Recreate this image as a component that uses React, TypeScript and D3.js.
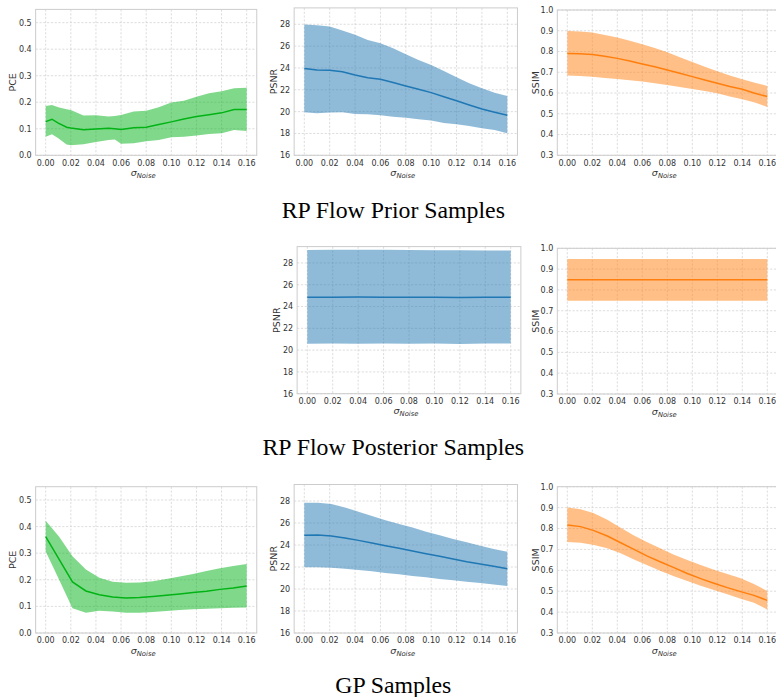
import React from "react";
import * as d3 from "d3";

// ---------- data ----------
const xTicks = [0, 0.02, 0.04, 0.06, 0.08, 0.1, 0.12, 0.14, 0.16];
const pceTicks = [0, 0.1, 0.2, 0.3, 0.4, 0.5];
const psnrTicks = [16, 18, 20, 22, 24, 26, 28];
const ssimTicks = [0.3, 0.4, 0.5, 0.6, 0.7, 0.8, 0.9, 1.0];

const rowTitles = ["RP Flow Prior Samples", "RP Flow Posterior Samples", "GP Samples"];

// Row 1: prior
const priorPceX = [0, 0.005, 0.01, 0.0167, 0.02, 0.03, 0.04, 0.05, 0.055, 0.06, 0.07, 0.08, 0.09, 0.1, 0.11, 0.12, 0.13, 0.14, 0.15, 0.16];
const priorPceMean = [0.127, 0.136, 0.121, 0.106, 0.103, 0.096, 0.099, 0.102, 0.1, 0.097, 0.104, 0.106, 0.116, 0.126, 0.137, 0.146, 0.153, 0.16, 0.173, 0.173];
const priorPceUpper = [0.186, 0.19, 0.181, 0.174, 0.171, 0.15, 0.151, 0.146, 0.148, 0.152, 0.165, 0.168, 0.181, 0.199, 0.206, 0.221, 0.234, 0.241, 0.253, 0.255];
const priorPceLower = [0.07, 0.079, 0.064, 0.041, 0.038, 0.042, 0.05, 0.058, 0.06, 0.044, 0.045, 0.053, 0.058, 0.068, 0.07, 0.075, 0.08, 0.083, 0.095, 0.092];

const priorX = [0, 0.01, 0.02, 0.03, 0.04, 0.05, 0.06, 0.07, 0.08, 0.09, 0.1, 0.11, 0.12, 0.13, 0.14, 0.15, 0.16];
const priorPsnrMean = [23.94, 23.82, 23.79, 23.66, 23.36, 23.11, 22.96, 22.66, 22.35, 22.05, 21.74, 21.37, 21.0, 20.61, 20.24, 19.94, 19.66];
const priorPsnrUpper = [27.97, 27.9, 27.79, 27.42, 27.05, 26.56, 26.26, 25.8, 25.25, 24.73, 24.27, 23.73, 23.15, 22.6, 22.14, 21.74, 21.44];
const priorPsnrLower = [19.94, 19.85, 19.91, 19.94, 19.79, 19.76, 19.66, 19.54, 19.45, 19.3, 19.18, 18.96, 18.84, 18.69, 18.47, 18.32, 18.02];
const priorSsimMean = [0.791, 0.789, 0.786, 0.777, 0.767, 0.754, 0.74, 0.727, 0.711, 0.695, 0.679, 0.663, 0.647, 0.631, 0.618, 0.599, 0.583];
const priorSsimUpper = [0.899, 0.896, 0.892, 0.88, 0.867, 0.852, 0.835, 0.817, 0.796, 0.772, 0.75, 0.727, 0.705, 0.685, 0.666, 0.65, 0.634];
const priorSsimLower = [0.684, 0.682, 0.679, 0.672, 0.668, 0.661, 0.655, 0.647, 0.639, 0.629, 0.619, 0.61, 0.599, 0.583, 0.57, 0.554, 0.533];

// Row 2: posterior
const postX = [0, 0.02, 0.04, 0.06, 0.08, 0.1, 0.12, 0.14, 0.16];
const postPsnrMean = [24.85, 24.86, 24.87, 24.86, 24.85, 24.85, 24.84, 24.85, 24.85];
const postPsnrUpper = [29.19, 29.2, 29.22, 29.2, 29.18, 29.17, 29.16, 29.15, 29.14];
const postPsnrLower = [20.58, 20.6, 20.59, 20.61, 20.58, 20.6, 20.57, 20.6, 20.61];
const postSsimMean = [0.849, 0.849, 0.849, 0.849, 0.849, 0.849, 0.849, 0.849, 0.849];
const postSsimUpper = [0.949, 0.949, 0.949, 0.949, 0.949, 0.949, 0.949, 0.949, 0.949];
const postSsimLower = [0.748, 0.748, 0.748, 0.748, 0.748, 0.748, 0.748, 0.748, 0.748];

// Row 3: GP
const gpX = [0, 0.0107, 0.0213, 0.032, 0.0427, 0.0533, 0.064, 0.0747, 0.0853, 0.096, 0.1067, 0.1173, 0.128, 0.1387, 0.1493, 0.16];
const gpPceMean = [0.362, 0.277, 0.192, 0.158, 0.144, 0.135, 0.132, 0.133, 0.137, 0.142, 0.147, 0.152, 0.157, 0.164, 0.169, 0.177];
const gpPceUpper = [0.422, 0.362, 0.289, 0.239, 0.208, 0.193, 0.189, 0.19, 0.195, 0.203, 0.212, 0.222, 0.233, 0.243, 0.252, 0.259];
const gpPceLower = [0.306, 0.2, 0.093, 0.076, 0.084, 0.081, 0.076, 0.076, 0.079, 0.083, 0.086, 0.089, 0.091, 0.093, 0.095, 0.096];
const gpPsnrMean = [24.88, 24.91, 24.82, 24.64, 24.42, 24.18, 23.94, 23.7, 23.45, 23.21, 22.97, 22.73, 22.48, 22.27, 22.06, 21.85];
const gpPsnrUpper = [27.85, 27.85, 27.73, 27.42, 27.03, 26.64, 26.24, 25.91, 25.58, 25.21, 24.88, 24.55, 24.24, 23.94, 23.64, 23.39];
const gpPsnrLower = [21.97, 21.97, 21.94, 21.85, 21.73, 21.61, 21.45, 21.33, 21.18, 21.06, 20.91, 20.79, 20.67, 20.55, 20.42, 20.27];
const gpSsimMean = [0.817, 0.809, 0.79, 0.764, 0.732, 0.7, 0.668, 0.64, 0.613, 0.585, 0.56, 0.538, 0.517, 0.498, 0.48, 0.456];
const gpSsimUpper = [0.9, 0.892, 0.873, 0.842, 0.804, 0.767, 0.734, 0.704, 0.675, 0.649, 0.625, 0.603, 0.582, 0.562, 0.535, 0.501];
const gpSsimLower = [0.735, 0.732, 0.721, 0.705, 0.681, 0.652, 0.624, 0.597, 0.571, 0.549, 0.526, 0.506, 0.485, 0.464, 0.445, 0.413];

// ---------- styling ----------
const GREEN = "#01b315";
const BLUE = "#1f77b4";
const ORANGE = "#ff7f0e";
const SANS = "DejaVu Sans, sans-serif";
const SERIF = "Liberation Serif, Times New Roman, serif";

type PanelProps = {
  xs: number[];
  mean: number[];
  upper: number[];
  lower: number[];
  color: string;
  label: string;
  yDomain: [number, number];
  yTicks: number[];
  yFmt: (v: number) => string;
  xPix: [number, number];
  yPix: [number, number];
  labelOffset: number;
  id: string;
};

function Panel(p: PanelProps) {
  const x = d3.scaleLinear().domain([0, 0.16]).range(p.xPix);
  const y = d3.scaleLinear().domain(p.yDomain).range(p.yPix);
  const left = x(-0.008);
  const right = x(0.168);
  const top = y(p.yDomain[1]);
  const bottom = y(p.yDomain[0]);
  const idx = p.xs.map((_, i) => i);
  const area = d3
    .area<number>()
    .x((i) => x(p.xs[i]))
    .y0((i) => y(p.lower[i]))
    .y1((i) => y(p.upper[i]));
  const line = d3
    .line<number>()
    .x((i) => x(p.xs[i]))
    .y((i) => y(p.mean[i]));
  const fmtX = d3.format(".2f");
  return (
    <g>
      <defs>
        <clipPath id={p.id}>
          <rect x={left} y={top} width={right - left} height={bottom - top} />
        </clipPath>
      </defs>
      <rect x={left} y={top} width={right - left} height={bottom - top} fill="#ffffff" />
      {xTicks.map((t) => (
        <line key={"gx" + t} x1={x(t)} x2={x(t)} y1={top} y2={bottom} stroke="#d4d4d4" strokeWidth={0.8} strokeDasharray="2.2,1.6" />
      ))}
      {p.yTicks.map((t) => (
        <line key={"gy" + t} x1={left} x2={right} y1={y(t)} y2={y(t)} stroke="#d4d4d4" strokeWidth={0.8} strokeDasharray="2.2,1.6" />
      ))}
      <g clipPath={`url(#${p.id})`}>
        <path d={area(idx) || ""} fill={p.color} fillOpacity={0.5} stroke="none" />
        <path d={line(idx) || ""} fill="none" stroke={p.color} strokeWidth={1.5} />
      </g>
      <rect x={left} y={top} width={right - left} height={bottom - top} fill="none" stroke="#cccccc" strokeWidth={1} />
      {xTicks.map((t) => (
        <text key={"tx" + t} x={x(t)} y={bottom + 10.3} fontSize={8} fill="#333333" fontFamily={SANS} textAnchor="middle">
          {fmtX(t)}
        </text>
      ))}
      {p.yTicks.map((t) => (
        <text key={"ty" + t} x={left - 4} y={y(t) + 2.9} fontSize={8} fill="#333333" fontFamily={SANS} textAnchor="end">
          {p.yFmt(t)}
        </text>
      ))}
      <text
        x={(left + right) / 2 - 3}
        y={bottom + 20.5}
        fontFamily={SANS}
        fill="#333333"
        textAnchor="middle"
      >
        <tspan fontSize={9.5} fontStyle="italic">σ</tspan>
        <tspan fontSize={6.8} fontStyle="italic" dy={2}>Noise</tspan>
      </text>
      <text
        transform={`translate(${left - p.labelOffset},${(top + bottom) / 2}) rotate(-90)`}
        fontSize={9.5}
        fontFamily={SANS}
        fill="#333333"
        textAnchor="middle"
        dy="0.35em"
      >
        {p.label}
      </text>
    </g>
  );
}

const f1 = d3.format(".1f");
const f0 = d3.format("d");

export default function App() {
  return (
    <svg
      width={776}
      height={697}
      style={{ position: "absolute", left: 0, top: 0, background: "#ffffff" }}
    >
      <rect x={0} y={0} width={776} height={697} fill="#ffffff" />
      {/* Row 1 */}
      <Panel id="c1" xs={priorPceX} mean={priorPceMean} upper={priorPceUpper} lower={priorPceLower} color={GREEN} label="PCE"
        yDomain={[0, 0.55]} yTicks={pceTicks} yFmt={f1} xPix={[45.7, 246.7]} yPix={[155.3, 9.4]} labelOffset={23} />
      <Panel id="c2" xs={priorX} mean={priorPsnrMean} upper={priorPsnrUpper} lower={priorPsnrLower} color={BLUE} label="PSNR"
        yDomain={[16, 29.5]} yTicks={psnrTicks} yFmt={f0} xPix={[304.3, 507.3]} yPix={[155.3, 7.9]} labelOffset={20} />
      <Panel id="c3" xs={priorX} mean={priorSsimMean} upper={priorSsimUpper} lower={priorSsimLower} color={ORANGE} label="SSIM"
        yDomain={[0.3, 1.0]} yTicks={ssimTicks} yFmt={f1} xPix={[567.3, 767.3]} yPix={[155.3, 10]} labelOffset={22} />
      <text x={393.3} y={218} fontSize={23.8} fontFamily={SERIF} textAnchor="middle" fill="#000">
        {rowTitles[0]}
      </text>

      {/* Row 2 */}
      <Panel id="c5" xs={postX} mean={postPsnrMean} upper={postPsnrUpper} lower={postPsnrLower} color={BLUE} label="PSNR"
        yDomain={[16, 29.5]} yTicks={psnrTicks} yFmt={f0} xPix={[307.3, 510.7]} yPix={[393.7, 246.6]} labelOffset={20} />
      <Panel id="c6" xs={postX} mean={postSsimMean} upper={postSsimUpper} lower={postSsimLower} color={ORANGE} label="SSIM"
        yDomain={[0.3, 1.0]} yTicks={ssimTicks} yFmt={f1} xPix={[567.3, 767.3]} yPix={[394, 248.3]} labelOffset={22} />
      <text x={393.3} y={455} fontSize={23.8} fontFamily={SERIF} textAnchor="middle" fill="#000">
        {rowTitles[1]}
      </text>

      {/* Row 3 */}
      <Panel id="c7" xs={gpX} mean={gpPceMean} upper={gpPceUpper} lower={gpPceLower} color={GREEN} label="PCE"
        yDomain={[0, 0.55]} yTicks={pceTicks} yFmt={f1} xPix={[45.7, 246.7]} yPix={[633, 486.7]} labelOffset={23} />
      <Panel id="c8" xs={gpX} mean={gpPsnrMean} upper={gpPsnrUpper} lower={gpPsnrLower} color={BLUE} label="PSNR"
        yDomain={[16, 29.5]} yTicks={psnrTicks} yFmt={f0} xPix={[304.3, 507.3]} yPix={[633, 484.5]} labelOffset={20} />
      <Panel id="c9" xs={gpX} mean={gpSsimMean} upper={gpSsimUpper} lower={gpSsimLower} color={ORANGE} label="SSIM"
        yDomain={[0.3, 1.0]} yTicks={ssimTicks} yFmt={f1} xPix={[567.3, 767.3]} yPix={[633, 486.7]} labelOffset={22} />
      <text x={393.3} y={693.3} fontSize={23.8} fontFamily={SERIF} textAnchor="middle" fill="#000">
        {rowTitles[2]}
      </text>
    </svg>
  );
}
